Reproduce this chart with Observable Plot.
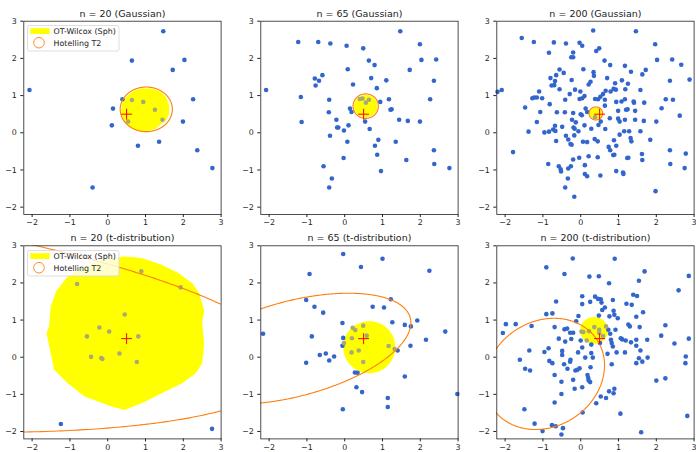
<!DOCTYPE html>
<html><head><meta charset="utf-8">
<script src="https://cdn.jsdelivr.net/npm/d3@7"></script>
<script src="https://cdn.jsdelivr.net/npm/@observablehq/plot@0.6"></script>
<style>
body{margin:0;background:#fff;}
#fig{position:relative;width:696px;height:452px;font-family:"DejaVu Sans",sans-serif;overflow:hidden;}
.panel{position:absolute;}
.panel svg{overflow:visible;}
.legend{position:absolute;overflow:visible;}
</style></head><body><div id="fig"></div>
<script>
// ---------- data ----------
const titles = ["n = 20 (Gaussian)","n = 65 (Gaussian)","n = 200 (Gaussian)",
  "n = 20 (t-distribution)","n = 65 (t-distribution)","n = 200 (t-distribution)"];
const tickValues = [-2,-1,0,1,2,3];
const legendLabels = ["OT-Wilcox (Sph)","Hotelling T2"];
const trueMean = [0.5,0.5];

const gauss20 = [[-2.07,1.15],[1.47,2.73],[0.64,1.94],[2.03,1.96],[1.72,1.69],[0.39,0.90],[0.14,0.65],[0.11,0.20],[2.26,0.90],[1.99,0.30],[0.80,-0.35],[1.36,-0.24],[2.37,-0.47],[2.77,-0.95],[-0.40,-1.47],[0.64,0.88],[0.94,0.83],[1.25,0.62],[1.45,0.35],[0.54,0.30]];

const gauss65 = [[-2.08,1.15],[-1.23,2.44],[-0.70,2.44],[-0.38,2.40],[0.05,2.34],[0.49,2.27],[1.47,2.73],[1.99,2.38],[2.03,1.96],[2.42,1.97],[0.64,1.94],[0.79,1.82],[0.08,1.71],[1.72,1.69],[-0.79,1.46],[-0.59,1.55],[-0.68,1.40],[-0.77,1.27],[0.70,1.47],[0.22,1.30],[1.10,1.41],[2.36,1.40],[-1.16,0.96],[-0.41,0.89],[0.85,1.20],[1.17,0.90],[2.26,0.90],[0.94,0.83],[0.14,0.65],[0.18,0.56],[-0.42,0.55],[1.24,0.63],[1.21,0.62],[-0.22,0.35],[1.44,0.35],[1.67,0.32],[1.99,0.30],[0.54,0.30],[0.10,0.20],[-1.14,0.29],[-0.17,0.14],[-0.20,0.14],[-0.02,0.06],[0.66,0.10],[-0.39,-0.08],[0.89,-0.19],[0.07,-0.24],[0.80,-0.35],[1.35,-0.24],[2.36,-0.47],[1.63,-0.73],[2.37,-0.84],[2.77,-0.95],[0.86,-0.59],[-0.03,-0.68],[-0.56,-0.90],[0.96,-1.03],[-0.34,-1.23],[-0.41,-1.47],[0.40,0.91],[0.47,0.92],[0.64,0.89],[0.56,0.81]];

const gauss200 = [[0.33,2.75],[1.46,2.73],[-1.56,2.55],[-1.24,2.44],[-0.71,2.43],[-0.39,2.40],[-0.03,2.42],[0.04,2.34],[1.97,2.38],[0.49,2.27],[0.41,2.20],[-0.84,2.15],[-0.20,2.16],[-0.25,2.03],[-0.20,2.03],[2.02,1.96],[2.42,1.97],[0.63,1.94],[0.78,1.82],[1.17,1.80],[2.66,1.83],[0.07,1.71],[1.72,1.69],[1.33,1.64],[0.34,1.63],[1.63,1.57],[-0.56,1.70],[-0.45,1.61],[0.35,1.53],[-0.80,1.47],[-0.65,1.55],[0.70,1.47],[-0.24,1.42],[1.09,1.41],[2.36,1.40],[2.88,1.43],[0.26,1.37],[-0.68,1.39],[-0.77,1.27],[-0.70,1.28],[0.21,1.30],[1.25,1.32],[-0.56,1.17],[-0.15,1.16],[0.66,1.13],[0.79,1.11],[0.87,1.18],[0.93,1.16],[1.18,1.17],[1.58,1.15],[0.59,1.04],[-0.01,1.11],[-0.29,1.04],[-1.10,1.11],[-2.20,1.10],[-2.09,1.15],[-1.23,0.95],[-1.16,0.95],[-1.28,0.93],[-1.02,0.93],[-0.41,0.89],[-0.03,0.91],[0.04,0.93],[0.10,0.99],[0.38,0.91],[0.46,0.90],[0.64,0.89],[0.94,0.83],[1.08,0.84],[1.17,0.90],[1.40,0.84],[1.41,0.81],[1.68,0.81],[2.25,0.90],[2.44,0.89],[-0.82,0.77],[-1.47,0.68],[2.14,0.66],[-1.07,0.56],[-0.63,0.55],[-0.42,0.55],[-0.20,0.53],[0.13,0.65],[0.17,0.56],[0.64,0.73],[0.99,0.59],[1.24,0.63],[1.20,0.62],[1.44,0.59],[2.62,0.46],[2.00,0.30],[1.67,0.32],[1.44,0.35],[1.17,0.35],[0.99,0.38],[1.03,0.30],[0.53,0.30],[0.77,0.39],[-0.23,0.35],[-1.16,0.29],[-0.68,0.19],[-0.73,0.09],[-0.67,0.05],[-0.49,0.16],[-0.19,0.14],[-0.16,0.11],[0.10,0.20],[0.47,0.21],[0.65,0.10],[1.15,0.04],[1.28,0.04],[1.58,0.04],[-1.38,0.03],[-0.96,0.01],[-0.84,0.03],[-0.39,-0.08],[-0.65,-0.22],[-0.33,-0.18],[-0.27,-0.30],[-0.24,-0.32],[0.06,-0.24],[0.17,-0.25],[0.37,-0.17],[0.45,-0.23],[0.88,-0.20],[1.32,-0.14],[1.34,-0.23],[1.84,-0.19],[0.74,-0.38],[0.86,-0.60],[0.89,-0.59],[0.45,-0.66],[0.21,-0.63],[-0.04,-0.67],[-0.20,-0.72],[1.23,-0.68],[1.26,-0.67],[1.62,-0.57],[1.63,-0.73],[2.36,-0.47],[2.78,-0.56],[2.37,-0.84],[2.75,-0.95],[-0.86,-0.84],[-0.58,-0.90],[-0.53,-0.98],[-0.52,-1.04],[-0.26,-0.90],[-0.33,-0.96],[0.11,-0.87],[0.94,-1.03],[1.12,-1.07],[1.13,-1.11],[0.11,-1.11],[0.17,-1.17],[0.52,-1.15],[-0.34,-1.23],[-0.41,-1.47],[-1.79,-0.52],[-0.17,-1.72],[1.98,-1.57],[0.91,1.33],[0.52,0.97],[0.00,0.50],[0.03,0.47],[-0.13,0.28],[-0.06,0.04],[0.28,0.11],[-0.17,-0.07],[1.03,-0.05],[0.78,-0.47],[0.94,-0.35],[0.38,0.42]];

const t20 = [[-1.24,-1.80],[2.76,-1.93],[-0.81,1.97],[0.89,2.31],[1.93,1.88],[0.45,1.15],[-0.22,0.80],[0.04,0.69],[-0.55,0.56],[0.81,0.56],[-0.44,0.01],[-0.17,-0.02],[-0.14,-0.05],[0.31,0.10],[0.77,-0.13]];

const t65 = [[-0.04,2.78],[1.00,2.65],[0.43,2.43],[2.24,2.33],[-0.93,2.24],[1.22,1.56],[-1.02,1.54],[-0.80,1.36],[0.74,1.36],[1.04,1.34],[-0.57,1.20],[1.92,0.99],[1.26,0.94],[1.59,0.87],[1.75,0.83],[-0.06,0.92],[-2.16,0.63],[-0.87,0.56],[2.66,0.69],[2.15,0.47],[0.21,0.79],[-0.04,0.52],[-0.02,0.38],[-0.06,0.31],[1.74,0.31],[1.32,0.22],[1.40,0.18],[-0.66,0.06],[-0.50,0.10],[-0.28,0.02],[-0.41,-0.09],[-1.02,-0.15],[0.27,-0.41],[0.34,-0.42],[1.59,-0.52],[0.31,-0.81],[0.46,-0.94],[1.14,-1.10],[1.14,-1.34],[-0.05,-1.40],[2.98,-0.99],[0.49,0.85],[0.28,0.73],[0.58,0.58],[0.19,0.51],[0.37,0.18],[0.18,0.13],[0.49,-0.13],[1.16,0.30]];

const t200 = [[-0.21,2.66],[0.90,2.65],[-0.91,2.42],[1.69,2.31],[-0.43,2.24],[0.23,2.17],[0.48,2.18],[2.86,2.19],[1.54,2.06],[0.75,1.99],[2.59,1.80],[0.04,1.64],[0.38,1.63],[0.46,1.57],[0.53,1.56],[0.85,1.54],[1.39,1.68],[1.49,1.65],[-0.65,1.50],[0.04,1.43],[0.25,1.49],[0.55,1.47],[1.21,1.44],[1.35,1.41],[0.64,1.34],[0.57,1.27],[0.87,1.25],[1.65,1.21],[0.89,1.14],[0.48,1.12],[0.98,1.05],[-0.06,1.11],[-0.75,1.18],[-0.91,1.16],[1.47,1.09],[-1.98,0.89],[-1.72,0.89],[-1.30,0.84],[-0.69,0.81],[-0.43,0.75],[-0.36,0.77],[-0.28,0.66],[-0.20,0.66],[0.67,0.83],[0.73,0.74],[0.92,0.74],[1.26,0.88],[1.30,0.83],[1.56,0.81],[2.24,0.86],[2.13,0.58],[2.86,0.50],[-2.06,0.65],[-0.58,0.50],[-0.25,0.49],[0.00,0.45],[-0.41,0.42],[0.51,0.38],[0.82,0.38],[1.06,0.51],[1.10,0.48],[1.19,0.45],[1.47,0.47],[1.76,0.47],[2.48,0.37],[-0.85,0.24],[0.04,0.26],[0.28,0.11],[0.85,0.29],[-1.36,0.18],[-0.49,0.17],[-0.96,0.14],[-0.07,0.13],[0.95,0.13],[1.17,0.13],[-0.49,0.06],[0.12,-0.01],[0.32,-0.01],[0.71,0.09],[-1.61,-0.07],[-0.83,-0.10],[-0.27,-0.07],[-0.28,-0.12],[1.47,-0.16],[1.54,-0.03],[1.63,-0.12],[1.77,-0.01],[2.78,0.02],[2.77,-0.16],[-0.75,-0.16],[-0.44,-0.19],[0.82,-0.19],[-1.47,-0.31],[-1.34,-0.36],[-0.35,-0.31],[-0.14,-0.36],[0.26,-0.27],[-0.09,-0.34],[-0.69,-0.48],[-0.20,-0.61],[0.18,-0.48],[0.21,-0.63],[0.25,-0.67],[-0.51,-0.66],[-0.16,-0.85],[0.75,-0.92],[0.87,-0.97],[0.89,-0.85],[2.00,-0.63],[2.24,-0.57],[-0.51,-0.99],[0.53,-1.06],[0.67,-1.10],[0.41,-1.24],[-0.69,-1.22],[0.05,-1.49],[1.05,-1.52],[2.82,-1.58],[-1.49,-1.40],[-1.22,-1.79],[-0.76,-1.83],[-0.66,-1.86],[-0.47,-1.91],[-1.01,-1.99],[-0.51,-2.08],[1.60,-2.02],[0.76,1.10],[-0.12,0.97],[0.78,0.63],[1.33,0.40],[0.16,0.45],[0.28,0.34],[0.80,0.47],[1.47,0.31],[1.58,0.18],[-0.03,-0.30],[0.20,-0.56],[0.04,-0.81],[0.02,0.69],[0.07,0.68],[0.22,0.70],[0.36,0.81],[0.49,0.74],[0.49,0.65],[0.59,0.57]];

// OT-Wilcox (Sph) regions: boundary vertices or ellipse parameters
const wilcoxG20 = [[0.35,0.59],[0.39,0.82],[0.51,0.99],[0.69,1.13],[0.91,1.20],[1.17,1.19],[1.40,1.11],[1.55,0.95],[1.63,0.73],[1.62,0.50],[1.55,0.34],[1.40,0.22],[1.26,0.10],[1.04,0.04],[0.78,0.05],[0.56,0.16],[0.41,0.34]];
const wilcoxG65 = {cx:0.556, cy:0.716, W:0.31, H:0.30, s:0};
const wilcoxG200 = {cx:0.40, cy:0.52, W:0.165, H:0.16, s:0};
const wilcoxT20 = [[-1.51,1.36],[-1.55,0.83],[-1.62,0.65],[-1.51,0.11],[-1.42,-0.34],[-1.06,-0.70],[-0.61,-1.06],[0.10,-1.33],[0.45,-1.42],[0.90,-1.24],[1.43,-0.97],[1.97,-0.70],[2.33,-0.43],[2.50,-0.16],[2.55,0.38],[2.50,0.92],[2.55,1.27],[2.42,1.72],[2.24,1.99],[1.88,2.26],[1.43,2.49],[0.90,2.67],[0.45,2.71],[-0.17,2.62],[-0.61,2.44],[-1.06,2.17],[-1.37,1.77]];
const wilcoxT65 = {cx:0.65, cy:0.27, W:0.69, H:0.70, s:0};
const wilcoxT200 = {cx:0.355, cy:0.72, W:0.37, H:0.36, s:0};

// Hotelling T2 ellipses: centre, half-width W, half-height H at centre, shear s of the chord-midpoint line
const hotG20 = {cx:1.02, cy:0.63, W:0.69, H:0.60, s:0};
const hotG65 = {cx:0.556, cy:0.716, W:0.335, H:0.33, s:0};
const hotG200 = {cx:0.40, cy:0.52, W:0.18, H:0.175, s:0};
const hotT20 = {cx:-9.8, cy:1.32, W:14.6, H:2.98, s:-0.104};
const hotT65 = {cx:-1.35, cy:0.23, W:3.1, H:1.32, s:0.225};
const hotT200 = {cx:-0.95, cy:-0.45, W:1.58, H:1.48, s:0.146};

// ---------- drawing ----------
function ellipse(e, n = 720) {
  return d3.range(n).map(i => {
    const t = 2 * Math.PI * i / n;
    return [e.cx + e.W * Math.cos(t), e.cy + e.s * e.W * Math.cos(t) + e.H * Math.sin(t)];
  });
}
const asPoly = r => Array.isArray(r) ? r : ellipse(r, 240);
const fmt = d3.format("d");

const panels = [
  {title: titles[0], pts: gauss20, region: wilcoxG20, hot: hotG20, row: 0, col: 0, legend: true},
  {title: titles[1], pts: gauss65, region: wilcoxG65, hot: hotG65, row: 0, col: 1},
  {title: titles[2], pts: gauss200, region: wilcoxG200, hot: hotG200, row: 0, col: 2},
  {title: titles[3], pts: t20, region: wilcoxT20, hot: hotT20, row: 1, col: 0, legend: true},
  {title: titles[4], pts: t65, region: wilcoxT65, hot: hotT65, row: 1, col: 1},
  {title: titles[5], pts: t200, region: wilcoxT200, hot: hotT200, row: 1, col: 2}
];

const fig = document.getElementById("fig");
const colLeft = [0, 237.2, 473.4];
const rowTop = [0, 226];
const rowMT = [20.7, 19.3];
const rowMB = [11.9, 13.6];
const frameW = 197.3, mL = 23.3;
const X = d => d[0], Y = d => d[1];

for (const p of panels) {
  const width = p.col === 2 ? 222 : 232;
  const poly = asPoly(p.region);
  const inside = p.pts.filter(d => d3.polygonContains(poly, d));
  const outside = p.pts.filter(d => !d3.polygonContains(poly, d));
  const chart = Plot.plot({
    width, height: 226,
    marginLeft: mL, marginRight: width - mL - frameW,
    marginTop: rowMT[p.row], marginBottom: rowMB[p.row],
    x: {domain: [-2.22, 3.0], label: null},
    y: {domain: [-2.2, 3.0], label: null},
    style: {background: "transparent", overflow: "visible", fontFamily: "DejaVu Sans", fontSize: "7.9px", color: "#222"},
    marks: [
      Plot.line(poly, {x: X, y: Y, fill: "#ffff00", stroke: "none", curve: "linear-closed", clip: true}),
      Plot.dot(outside, {x: X, y: Y, r: 2.3, fill: "#3366cc", stroke: "none"}),
      Plot.dot(inside, {x: X, y: Y, r: 2.3, fill: "#a9a974", stroke: "none"}),
      Plot.line(ellipse(p.hot), {x: X, y: Y, stroke: "#ff7f0e", strokeWidth: 1.1, curve: "linear-closed", clip: true}),
      Plot.dot([trueMean], {x: X, y: Y, symbol: "plus", r: 3.6, stroke: "red", fill: "none", strokeWidth: 1}),
      Plot.frame({stroke: "#222", strokeWidth: 0.8}),
      Plot.axisX({ticks: tickValues, tickFormat: fmt, tickSize: 3, tickPadding: 2, label: null, stroke: "#222"}),
      Plot.axisY({ticks: tickValues, tickFormat: fmt, tickSize: 3, tickPadding: 4, label: null, stroke: "#222"}),
      Plot.text([p.title], {text: d => d, frameAnchor: "top", lineAnchor: "middle", dy: -7.5, fontSize: 9.5, fill: "#222"})
    ]
  });
  const div = document.createElement("div");
  div.className = "panel";
  div.style.left = colLeft[p.col] + "px";
  div.style.top = rowTop[p.row] + "px";
  div.appendChild(chart);
  fig.appendChild(div);

  if (p.legend) {
    const svg = d3.create("svg").attr("class", "legend").attr("width", 93).attr("height", 27)
      .style("left", (colLeft[p.col] + 26.7) + "px")
      .style("top", (rowTop[p.row] + rowMT[p.row] + 4.2) + "px");
    svg.append("rect").attr("x", 0.5).attr("y", 0.5).attr("width", 91.5).attr("height", 25.5).attr("rx", 2)
      .attr("fill", "white").attr("fill-opacity", 0.8).attr("stroke", "#d6d6d6").attr("stroke-width", 0.8);
    svg.append("rect").attr("x", 3.4).attr("y", 3.2).attr("width", 19.2).attr("height", 5.8).attr("fill", "#ffff00");
    svg.append("circle").attr("cx", 12).attr("cy", 17.7).attr("r", 5.3).attr("fill", "none").attr("stroke", "#ff7f0e").attr("stroke-width", 0.9);
    svg.selectAll("text").data(legendLabels).join("text")
      .attr("x", 26.6).attr("y", (d, i) => i ? 20.5 : 8.9)
      .attr("font-size", 7.9).attr("font-family", "DejaVu Sans").attr("fill", "#222").text(d => d);
    fig.appendChild(svg.node());
  }
}
</script>
</body></html>
